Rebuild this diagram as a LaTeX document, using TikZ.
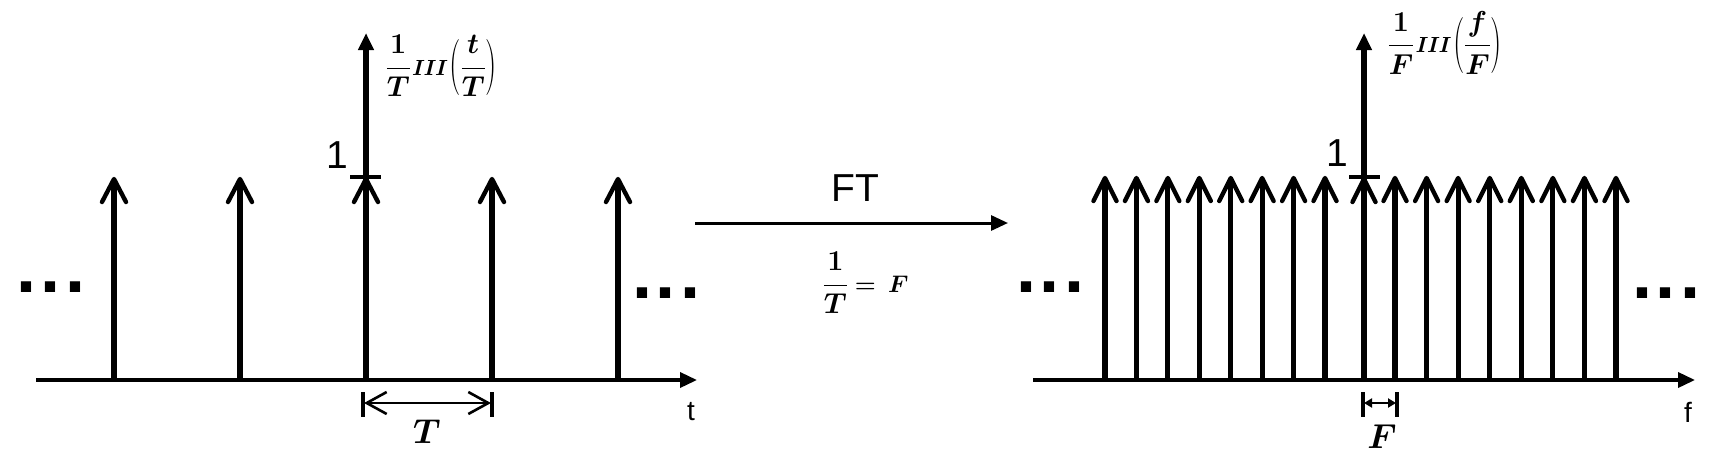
\documentclass[tikz,border=0pt]{standalone}
\usepackage{fontspec}
\usepackage{graphicx}
\setmainfont{Liberation Sans}
\newfontfamily\parenfont{Latin Modern Roman}
\usetikzlibrary{arrows.meta,calc}
\newcommand\smallIII{\mbox{\fontsize{10.5}{11}\selectfont$I\mkern-1mu I\mkern-1mu I$}}
\newcommand\tallparL{\mathopen{\vcenter{\hbox{\scalebox{1}[1.75]{\parenfont\fontsize{16}{16}\selectfont(}}}}}
\newcommand\tallparR{\mathclose{\vcenter{\hbox{\scalebox{1}[1.75]{\parenfont\fontsize{16}{16}\selectfont)}}}}}
\begin{document}
\begin{tikzpicture}[x=0.5pt,y=-0.5pt,
  axisline/.style={line width=1.75pt,-{Triangle[length=8.5pt,width=7.5pt]}},
  stemline/.style={line width=2.6pt},
  chev/.style={line width=2.2pt,line join=round,line cap=round},
  tickbar/.style={line width=1.7pt},
  spanbar/.style={line width=1.6pt},
  spanT/.style={line width=1.3pt,{Straight Barb[length=10pt,width=11pt]}-{Straight Barb[length=10pt,width=11pt]}},
  spanF/.style={line width=1.3pt,{Triangle[length=4pt,width=4.5pt]}-{Triangle[length=4pt,width=4.5pt]}},
  sanslbl/.style={inner sep=0pt,font=\fontsize{19.5}{20}\selectfont},
  axlbl/.style={inner sep=0pt,font=\fontsize{14}{15}\selectfont},
  mathlbl/.style={inner sep=0pt,font=\fontsize{13.5}{14}\selectfont\boldmath},
  spanlbl/.style={inner sep=0pt,font=\fontsize{16}{17}\selectfont\boldmath},
  dotsnode/.style={inner sep=0pt,font=\fontsize{36}{36}\selectfont\bfseries}]
\useasboundingbox (0,0) rectangle (1728,462);

% ---------- left panel ----------
\coordinate (LA0) at (36,380);
\coordinate (LA1) at (697,380);
\draw[axisline] (LA0) -- (LA1);
\foreach \x in {114,240,492,618}{
  \coordinate (b) at (\x,380);
  \coordinate (h) at (\x,179);
  \draw[stemline] (b) -- ($(h)+(0,2)$);
  \draw[chev] ($(h)+(-12,23)$) -- (h) -- ($(h)+(12,23)$);
}
\coordinate (Lc) at (366,380);
\coordinate (Ltop) at (366,33);
\coordinate (Lh) at (366,179);
\draw[stemline,-{Triangle[length=8.5pt,width=7.5pt]}] (Lc) -- (Ltop);
\draw[chev] ($(Lh)+(-12,23)$) -- (Lh) -- ($(Lh)+(12,23)$);
\coordinate (LbarA) at (350,177);
\coordinate (LbarB) at (381,177);
\draw[tickbar] (LbarA) -- (LbarB);
\node[sanslbl] (Lone) at (337,155) {1};
\node[mathlbl,anchor=west] (Lfun) at (384,66)
  {$\displaystyle\frac{1}{T}\smallIII\mkern1mu\tallparL\mkern-1mu\frac{t}{T}\mkern-1mu\tallparR$};
\node[axlbl] (tlbl) at (691,412) {t};
\node[dotsnode] (Ldl) at (51,287) {.\kern2pt.\kern2pt.};
\node[dotsnode] (Ldr) at (666,293) {.\kern2pt.\kern2pt.};
% T span
\coordinate (TLa) at (363,392); \coordinate (TLb) at (363,417);
\coordinate (TRa) at (492,392); \coordinate (TRb) at (492,417);
\draw[spanbar] (TLa) -- (TLb);
\draw[spanbar] (TRa) -- (TRb);
\coordinate (TL) at (364,403); \coordinate (TR) at (491,403);
\draw[spanT] (TL) -- (TR);
\node[spanlbl] (Tlbl) at (427,432) {$T$};

% ---------- FT arrow ----------
\coordinate (FT0) at (695,223);
\coordinate (FT1) at (1008,223);
\draw[line width=1.5pt,-{Triangle[length=8.5pt,width=7.5pt]}] (FT0) -- (FT1);
\node[sanslbl] (FTlbl) at (855,188) {FT};
\node[mathlbl] (rel) at (865,283)
  {$\displaystyle\frac{1}{T}\,\mbox{\fontsize{12}{13}\selectfont$=\,F$}$};

% ---------- right panel ----------
\coordinate (RA0) at (1033,380);
\coordinate (RA1) at (1695,380);
\draw[axisline] (RA0) -- (RA1);
\foreach \k in {0,...,7}{
  \coordinate (b) at (1105+31.43*\k,380);
  \coordinate (h) at (1105+31.43*\k,178);
  \draw[stemline] (b) -- ($(h)+(0,2)$);
  \draw[chev] ($(h)+(-11.5,23)$) -- (h) -- ($(h)+(11.5,23)$);
  \coordinate (b) at (1395+31.57*\k,380);
  \coordinate (h) at (1395+31.57*\k,178);
  \draw[stemline] (b) -- ($(h)+(0,2)$);
  \draw[chev] ($(h)+(-11.5,23)$) -- (h) -- ($(h)+(11.5,23)$);
}
\coordinate (Rc) at (1364,380);
\coordinate (Rtop) at (1364,33);
\coordinate (Rh) at (1364,179);
\draw[stemline,-{Triangle[length=8.5pt,width=7.5pt]}] (Rc) -- (Rtop);
\draw[chev] ($(Rh)+(-11.5,23)$) -- (Rh) -- ($(Rh)+(11.5,23)$);
\coordinate (RbarA) at (1349,177);
\coordinate (RbarB) at (1380,177);
\draw[tickbar] (RbarA) -- (RbarB);
\node[sanslbl] (Rone) at (1337,153) {1};
\node[mathlbl,anchor=west] (Rfun) at (1386,43)
  {$\displaystyle\frac{1}{F}\smallIII\mkern1mu\tallparL\mkern-1mu\frac{f}{F}\mkern-1mu\tallparR$};
\node[axlbl] (flbl) at (1688,412) {f};
\node[dotsnode] (Rdl) at (1050,287) {.\kern2pt.\kern2pt.};
\node[dotsnode] (Rdr) at (1666,293) {.\kern2pt.\kern2pt.};
% F span
\coordinate (FLa) at (1363,392); \coordinate (FLb) at (1363,417);
\coordinate (FRa) at (1397,392); \coordinate (FRb) at (1397,417);
\draw[spanbar] (FLa) -- (FLb);
\draw[spanbar] (FRa) -- (FRb);
\coordinate (FL) at (1364,403); \coordinate (FR) at (1396,403);
\draw[spanF] (FL) -- (FR);
\node[spanlbl] (Flbl) at (1382,437) {$F$};
\end{tikzpicture}
\end{document}
